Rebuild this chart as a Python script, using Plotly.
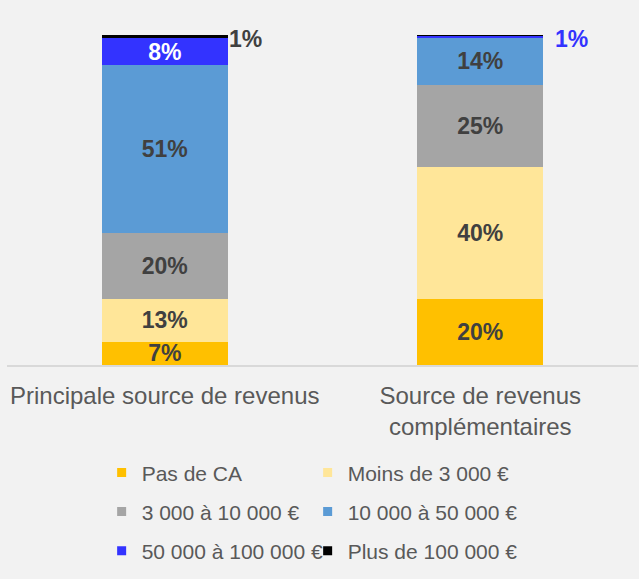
import plotly.graph_objects as go

categories = ["Principale source de revenus", "Source de revenus<br>complémentaires"]
series_names = ["Pas de CA", "Moins de 3 000 €", "3 000 à 10 000 €",
                "10 000 à 50 000 €", "50 000 à 100 000 €", "Plus de 100 000 €"]
pas_de_ca = [7, 20]
moins_3000 = [13, 40]
de_3000_a_10000 = [20, 25]
de_10000_a_50000 = [51, 14]
de_50000_a_100000 = [8, 0.7]
plus_100000 = [1, 0.3]
labels_pas_de_ca = ["7%", "20%"]
labels_moins_3000 = ["13%", "40%"]
labels_3000_10000 = ["20%", "25%"]
labels_10000_50000 = ["51%", "14%"]
labels_50000_100000 = ["8%", ""]
labels_plus_100000 = ["", ""]
outside_labels = ["1%", "1%"]

colors = ["#FFC000", "#FFE699", "#A5A5A5", "#5B9BD5", "#3333FF", "#000000"]
label_colors = ["#404040", "#404040", "#404040", "#404040", "#FFFFFF", "#FFFFFF"]
values = [pas_de_ca, moins_3000, de_3000_a_10000, de_10000_a_50000, de_50000_a_100000, plus_100000]
texts = [labels_pas_de_ca, labels_moins_3000, labels_3000_10000, labels_10000_50000,
         labels_50000_100000, labels_plus_100000]

FONT = "Liberation Sans, Arial, sans-serif"
fig = go.Figure()
legend_ids = ["legend", "legend", "legend2", "legend2", "legend3", "legend3"]
for i, name in enumerate(series_names):
    fig.add_trace(go.Bar(
        x=categories, y=values[i], name=name, marker_color=colors[i],
        marker_line_width=0, text=texts[i], textposition="inside",
        insidetextanchor="middle", textangle=0,
        textfont=dict(family=FONT, size=23, color=label_colors[i], weight="bold"),
        legendgroup=name, showlegend=False, hoverinfo="x+y+name", width=0.4,
    ))
    fig.add_trace(go.Scatter(
        x=[None], y=[None], mode="markers", name=name, legendgroup=name,
        marker=dict(symbol="square", size=9, color=colors[i]),
        legend=legend_ids[i], showlegend=True,
        legendwidth=161 if i % 2 == 0 else 230,
    ))

fig.add_annotation(x=categories[0], y=sum(v[0] for v in values), text=outside_labels[0],
                   showarrow=False, xanchor="left", yanchor="middle", xshift=62, yshift=-4,
                   font=dict(family=FONT, size=23, color="#404040", weight="bold"))
fig.add_annotation(x=categories[1], y=sum(v[1] for v in values), text=outside_labels[1],
                   showarrow=False, xanchor="left", yanchor="middle", xshift=73, yshift=-4,
                   font=dict(family=FONT, size=23, color="#3333FF", weight="bold"))

legend_common = dict(orientation="h", xanchor="left", yanchor="middle", x=0.15,
                     bgcolor="rgba(0,0,0,0)",
                     font=dict(family=FONT, size=21, color="#595959"))
fig.update_layout(
    barmode="stack",
    width=639, height=579,
    margin=dict(l=7, r=1, t=35, b=214),
    paper_bgcolor="#F2F2F2", plot_bgcolor="#F2F2F2",
    uniformtext=dict(mode="show", minsize=23),
    legend=dict(**legend_common, y=-0.327),
    legend2=dict(**legend_common, y=-0.445),
    legend3=dict(**legend_common, y=-0.564),
    xaxis=dict(showline=True, linecolor="#D9D9D9", linewidth=2, ticks="",
               tickfont=dict(family=FONT, size=24, color="#595959"),
               ticklabelstandoff=8, showgrid=False),
    yaxis=dict(range=[0, 100], visible=False, showgrid=False, zeroline=False),
    showlegend=True,
)
fig.write_html("out.html", config={"displayModeBar": False},
               post_script="document.body.style.margin='0';document.body.style.background='#F2F2F2';")
